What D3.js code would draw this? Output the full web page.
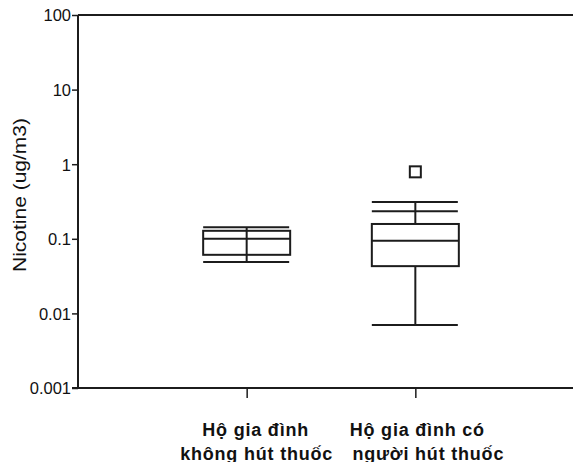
<!DOCTYPE html>
<html>
<head>
<meta charset="utf-8">
<script src="https://cdn.jsdelivr.net/npm/d3@7"></script>
<style>
  body { margin: 0; background: #fff; }
  svg { display: block; }
</style>
</head>
<body>
<div class="graph"></div>
<script>
// categories (two lines each) and box statistics
var categories = ["khong", "co"];
var categoryLines = [["Hộ gia đình", "không hút thuốc"], ["Hộ gia đình có", "người hút thuốc"]];
var whiskerLow  = [0.049, 0.0070];
var q1          = [0.061, 0.043];
var median      = [0.100, 0.094];
var q3          = [0.128, 0.158];
var whiskerHigh = [0.143, 0.311];
var extraLine   = [null, 0.234];
var outliers    = [[], [0.79]];
var yTicks = [0.001, 0.01, 0.1, 1, 10, 100];
var yTickLabels = ["0.001", "0.01", "0.1", "1", "10", "100"];

var W = 573, H = 462;
var plotLeft = 78, plotTop = 15, plotBottom = 388;

var svg = d3.select(".graph").append("svg")
    .attr("width", W)
    .attr("height", H);

var x = d3.scalePoint().domain(categories).range([plotLeft, plotLeft + 506]).padding(1);
var y = d3.scaleLog().domain([0.001, 100]).range([plotBottom, plotTop]);
var half = 43.5;
var ink = "#1c1c1c";

// frame: top line and right side run off the picture
svg.append("line")
    .attr("x1", plotLeft).attr("x2", W)
    .attr("y1", plotTop).attr("y2", plotTop)
    .attr("stroke", ink).attr("stroke-width", 2);

// y axis
var yAxis = d3.axisLeft(y).tickValues(yTicks)
    .tickFormat(function(d, i) { return yTickLabels[i]; })
    .tickSize(6).tickPadding(1);
var gy = svg.append("g")
    .attr("transform", "translate(" + plotLeft + ",0)")
    .call(yAxis);
gy.select(".domain").attr("stroke", ink).attr("stroke-width", 2)
    .attr("d", "M0," + plotTop + "V" + plotBottom);
gy.selectAll(".tick line").attr("stroke", ink).attr("stroke-width", 1.5);
gy.selectAll(".tick text")
    .attr("fill", "#111")
    .style("font", "16.5px 'Liberation Sans Narrow', 'Arial Narrow', sans-serif")
    .attr("dy", "0.36em");

// x axis
var xAxis = d3.axisBottom(x).tickSize(10).tickFormat("");
var gx = svg.append("g")
    .attr("transform", "translate(0," + plotBottom + ")")
    .call(xAxis);
gx.select(".domain").attr("stroke", ink).attr("stroke-width", 2)
    .attr("d", "M" + (plotLeft - 6) + ",0H" + W);
gx.selectAll(".tick line").attr("stroke", ink).attr("stroke-width", 1.5);

// category labels
var labelDx = [[9, 10], [2, 13]];
categories.forEach(function(c, i) {
    categoryLines[i].forEach(function(t, j) {
        svg.append("text")
            .attr("x", x(c) + labelDx[i][j])
            .attr("y", 436 + j * 24)
            .attr("text-anchor", "middle")
            .attr("fill", "#111")
            .style("font", "bold 18px 'Liberation Sans', Arial, sans-serif")
            .style("letter-spacing", "0.8px")
            .text(t);
    });
});

// y title
svg.append("text")
    .attr("transform", "translate(26,195) rotate(-90) scale(1,0.85)")
    .attr("text-anchor", "middle")
    .attr("fill", "#111")
    .style("font", "21px 'Liberation Sans', Arial, sans-serif")
    .text("Nicotine (ug/m3)");

// boxes
var boxes = svg.selectAll(".box")
    .data(categories)
    .enter().append("g")
    .attr("class", "box")
    .attr("fill", "none")
    .attr("stroke", ink)
    .attr("stroke-width", 2);

boxes.each(function(c, i) {
    var g = d3.select(this);
    var cx = x(c);
    if (i === 0) {
        g.append("line").attr("x1", cx).attr("x2", cx)
            .attr("y1", y(whiskerLow[i])).attr("y2", y(whiskerHigh[i]));
    } else {
        g.append("line").attr("x1", cx).attr("x2", cx)
            .attr("y1", y(whiskerLow[i])).attr("y2", y(q1[i]));
        g.append("line").attr("x1", cx).attr("x2", cx)
            .attr("y1", y(q3[i])).attr("y2", y(whiskerHigh[i]));
    }
    g.append("rect")
        .attr("x", cx - half).attr("width", half * 2)
        .attr("y", y(q3[i])).attr("height", y(q1[i]) - y(q3[i]));
    g.append("line").attr("x1", cx - half).attr("x2", cx + half)
        .attr("y1", y(median[i])).attr("y2", y(median[i]));
    [whiskerLow[i], whiskerHigh[i], extraLine[i]].forEach(function(v) {
        if (v === null) { return; }
        g.append("line").attr("x1", cx - half).attr("x2", cx + half - 1)
            .attr("y1", y(v)).attr("y2", y(v));
    });
    outliers[i].forEach(function(v) {
        g.append("rect")
            .attr("x", cx - 5.5).attr("y", y(v) - 5.5)
            .attr("width", 11).attr("height", 11);
    });
});
</script>
</body>
</html>
